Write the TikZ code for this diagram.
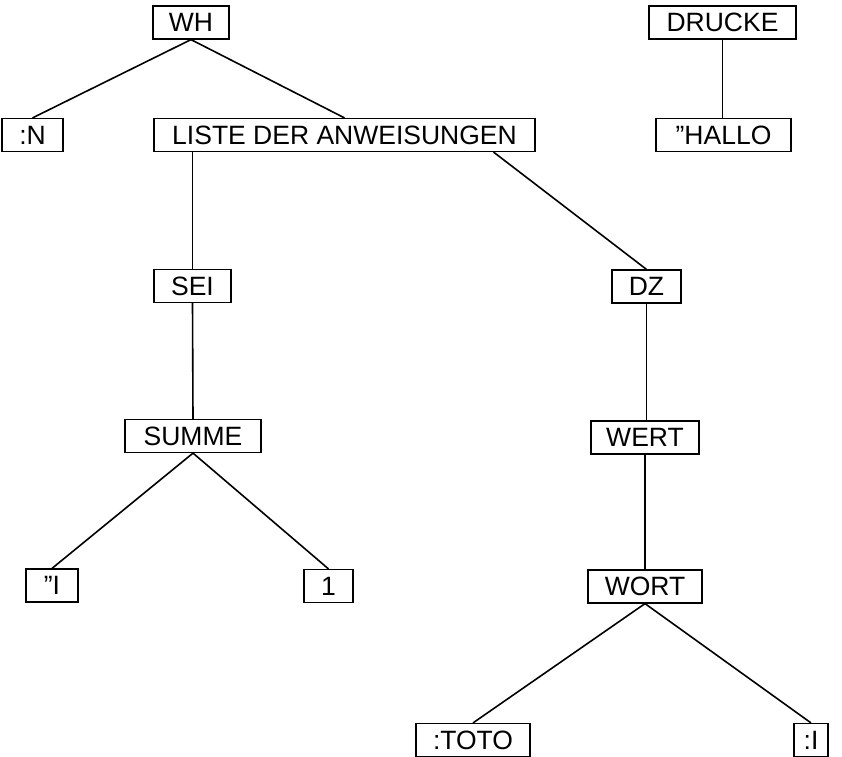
\documentclass[tikz,border=0pt]{standalone}
\usepackage{fontspec}
\setmainfont{Liberation Sans}
\usetikzlibrary{calc}
\begin{document}
\begin{tikzpicture}[x=1pt,y=-1pt,
  box/.style={draw=black, line width=1.2pt, rectangle, inner sep=0pt,
    minimum height=33pt, font=\fontsize{26.5}{30}\selectfont, text=black},
  edge/.style={draw=black, line width=1.6pt}]
  \useasboundingbox (0,0) rectangle (842,756);

  % left tree
  \node[box, minimum width=76pt]  (wh)    at (191,22.5)  {WH};
  \node[box, minimum width=61pt]  (n)     at (32.5,135)  {:N};
  \node[box, minimum width=381pt] (liste) at (344.5,135) {LISTE DER ANWEISUNGEN};
  \node[box, minimum width=77pt]  (sei)   at (192.5,286) {SEI};
  \node[box, minimum width=136pt] (summe) at (193,436)   {SUMME};
  \node[box, minimum width=52pt]  (qi)    at (52,585.5)  {”I};
  \node[box, minimum width=49pt]  (one)   at (328.5,586) {1};
  \node[box, minimum width=69pt]  (dz)    at (646.5,286.5) {DZ};
  \node[box, minimum width=108pt] (wert)  at (645,437.5) {WERT};
  \node[box, minimum width=114pt] (wort)  at (645,586.5) {WORT};
  \node[box, minimum width=114pt] (toto)  at (473,740)   {:TOTO};
  \node[box, minimum width=34pt]  (ci)    at (811,740)   {:I};

  % right tree
  \node[box, minimum width=147pt] (drucke) at (722.5,22.5) {DRUCKE};
  \node[box, minimum width=135pt] (hallo)  at (723.5,135)  {”HALLO};

  % connectors
  \draw[edge] (wh.south) -- (n.north);
  \draw[edge] (wh.south) -- (liste.north);
  \draw[edge] (liste.south -| sei.north) -- (sei.north);
  \draw[edge] ($(liste.south west)!0.89!(liste.south east)$) -- (dz.north);
  \draw[edge] (sei.south) -- (summe.north);
  \draw[edge] (summe.south) -- (qi.north);
  \draw[edge] (summe.south) -- (one.north);
  \draw[edge] (dz.south) -- (dz.south |- wert.north);
  \draw[edge] (wert.south) -- (wert.south |- wort.north);
  \draw[edge] (wort.south) -- (toto.north);
  \draw[edge] (wort.south) -- (ci.north);
  \draw[edge] (drucke.south) -- (drucke.south |- hallo.north);
\end{tikzpicture}
\end{document}
